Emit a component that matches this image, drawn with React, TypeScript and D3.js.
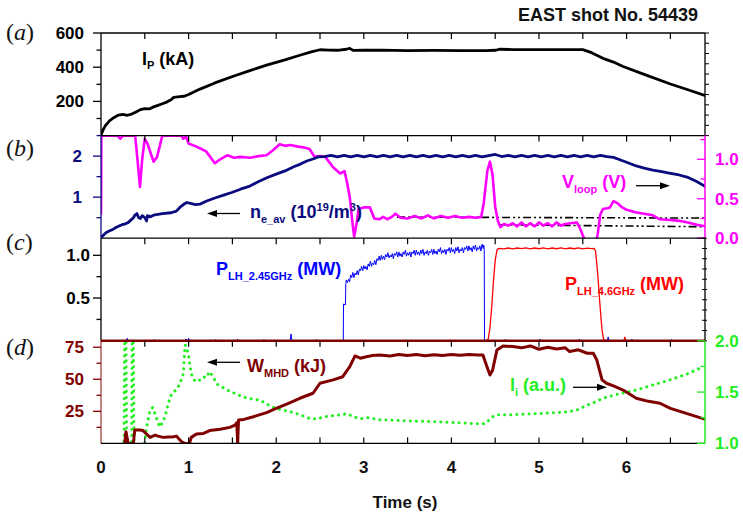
import React from "react";
import * as d3 from "d3";

type P = [number, number];

const T_MAX = 6.895;
const xLabelTicks = [0, 1, 2, 3, 4, 5, 6];
const xMinorTicks = [0.5, 1, 1.5, 2, 2.5, 3, 3.5, 4, 4.5, 5, 5.5, 6, 6.5];

// (a) plasma current, kA
const ipData: P[] = [
  [0, 0], [0.02, 30], [0.05, 58], [0.1, 88], [0.15, 106], [0.2, 120], [0.25, 124], [0.3, 119],
  [0.35, 126], [0.4, 138], [0.45, 152], [0.5, 158], [0.55, 156], [0.6, 168], [0.65, 177], [0.7, 186],
  [0.75, 196], [0.8, 210], [0.83, 224], [0.9, 228], [0.95, 230], [1.0, 240], [1.13, 272], [1.3, 308],
  [1.51, 347], [1.7, 380], [1.89, 412], [2.1, 443], [2.27, 470], [2.4, 490], [2.5, 502], [2.6, 500],
  [2.7, 499], [2.8, 505], [2.84, 510], [2.88, 498], [3.0, 499], [3.2, 500], [3.5, 497], [3.8, 498],
  [4.1, 497], [4.4, 497], [4.5, 499], [4.55, 505], [4.7, 503], [5.0, 503], [5.3, 503], [5.5, 503],
  [5.6, 485], [5.73, 452], [5.85, 430], [5.96, 404], [6.2, 358], [6.5, 302], [6.7, 268], [6.9, 234],
];
const ipTicksMajor = [200, 400, 600];
const ipTicksMinor = [100, 300, 500];

// (b) line-averaged density, 1e19 m^-3
const neData: P[] = [
  [0, 0.02], [0.03, 0.08], [0.06, 0.14], [0.1, 0.18], [0.14, 0.22], [0.17, 0.26], [0.2, 0.29], [0.24, 0.33],
  [0.28, 0.35], [0.31, 0.38], [0.34, 0.44], [0.37, 0.5], [0.39, 0.57], [0.41, 0.6], [0.43, 0.5], [0.45, 0.48],
  [0.47, 0.55], [0.5, 0.5], [0.52, 0.42], [0.53, 0.55], [0.56, 0.52], [0.6, 0.56], [0.7, 0.6], [0.8, 0.62],
  [0.86, 0.66], [0.9, 0.75], [0.94, 0.82], [0.98, 0.87], [1.02, 0.85], [1.08, 0.82], [1.13, 0.83], [1.2, 0.9],
  [1.3, 0.98], [1.4, 1.05], [1.5, 1.12], [1.6, 1.2], [1.7, 1.27], [1.8, 1.38], [1.9, 1.48], [2.0, 1.56],
  [2.1, 1.64], [2.2, 1.74], [2.27, 1.8], [2.35, 1.88], [2.42, 1.93], [2.48, 1.98], [2.55, 1.99],
  [2.625, 2.02], [2.7, 1.98], [2.775, 2.02], [2.85, 1.98], [2.925, 2.02], [3.0, 1.98], [3.075, 2.02],
  [3.15, 1.98], [3.225, 2.02], [3.3, 1.98], [3.375, 2.02], [3.45, 1.98], [3.525, 2.02], [3.6, 1.98],
  [3.675, 2.02], [3.75, 1.98], [3.825, 2.02], [3.9, 1.98], [3.975, 2.02], [4.05, 1.98], [4.125, 2.02],
  [4.2, 1.98], [4.275, 2.02], [4.35, 1.98], [4.425, 2.01], [4.5, 2.04], [4.575, 1.99], [4.65, 2.02],
  [4.725, 1.98], [4.8, 2.02], [4.875, 1.98], [4.95, 2.02], [5.025, 1.98], [5.1, 2.02], [5.175, 1.98],
  [5.25, 2.02], [5.325, 1.98], [5.4, 2.02], [5.475, 1.98], [5.55, 2.02], [5.625, 1.98], [5.7, 2.02],
  [5.775, 1.99], [5.85, 1.97], [5.9, 1.93], [6.0, 1.85], [6.11, 1.76], [6.2, 1.71], [6.3, 1.66],
  [6.4, 1.62], [6.5, 1.58], [6.6, 1.54], [6.69, 1.49], [6.8, 1.38], [6.9, 1.26],
];
const neTicksMajor = [1, 2];
const neTicksMinor = [0.5, 1.5, 2.5];

// (b) loop voltage, V
const vloopData: P[] = [
  [0, 0.3], [0.004, 1.3], [0.19, 1.3], [0.22, 1.26], [0.25, 1.3], [0.39, 1.3], [0.42, 0.95], [0.445, 0.65],
  [0.47, 1.0], [0.5, 1.26], [0.53, 1.2], [0.6, 0.97], [0.64, 1.03], [0.7, 1.3], [0.92, 1.3], [0.94, 1.26],
  [0.97, 1.29], [1.0, 1.2], [1.07, 1.17], [1.13, 1.14], [1.2, 1.1], [1.3, 0.95], [1.36, 1.0], [1.44, 1.05],
  [1.52, 1.02], [1.59, 1.03], [1.7, 1.02], [1.8, 1.04], [1.89, 1.05], [1.97, 1.12], [2.04, 1.19],
  [2.1, 1.17], [2.16, 1.18], [2.25, 1.16], [2.32, 1.15], [2.38, 1.13], [2.44, 1.03], [2.5, 1.04],
  [2.56, 1.03], [2.65, 0.9], [2.73, 0.82], [2.78, 0.85], [2.81, 0.7], [2.84, 0.52], [2.87, 0.2],
  [2.89, 0.02], [2.92, 0.2], [2.94, 0.37], [3.0, 0.39], [3.07, 0.39], [3.12, 0.25], [3.18, 0.24],
  [3.22, 0.27], [3.27, 0.24], [3.32, 0.27], [3.36, 0.31], [3.42, 0.26], [3.5, 0.25], [3.58, 0.28],
  [3.66, 0.25], [3.73, 0.29], [3.8, 0.25], [3.88, 0.28], [3.96, 0.26], [4.04, 0.28], [4.12, 0.26],
  [4.2, 0.27], [4.28, 0.26], [4.34, 0.27], [4.37, 0.45], [4.41, 0.85], [4.44, 0.97], [4.47, 0.8],
  [4.5, 0.4], [4.53, 0.22], [4.56, 0.14], [4.6, 0.18], [4.65, 0.16], [4.7, 0.19], [4.75, 0.15],
  [4.8, 0.2], [4.85, 0.15], [4.9, 0.19], [4.95, 0.15], [5.0, 0.2], [5.05, 0.16], [5.1, 0.19],
  [5.15, 0.15], [5.2, 0.2], [5.25, 0.16], [5.3, 0.18], [5.36, 0.19], [5.43, 0.2], [5.47, 0.12],
  [5.51, 0.01], [5.55, -0.1], [5.64, -0.1], [5.67, 0.05], [5.7, 0.3], [5.73, 0.37], [5.78, 0.38],
  [5.81, 0.39], [5.85, 0.47], [5.9, 0.44], [5.95, 0.39], [6.0, 0.36], [6.1, 0.33], [6.2, 0.31],
  [6.3, 0.29], [6.38, 0.24], [6.5, 0.23], [6.6, 0.22], [6.7, 0.2], [6.8, 0.17], [6.9, 0.15],
];
const vFitUpper: P[] = [[3.38, 0.267], [6.9, 0.255]];
const vFitLower: P[] = [[4.55, 0.17], [6.9, 0.145]];
const vTicksMajor = [0, 0.5, 1.0];
const vTicksMinor = [0.25, 0.75, 1.25];

// (c) LH powers, MW
const plh245Data: P[] = [
  [0, 0], [0.29, 0], [0.3, 0.03], [0.31, 0], [0.6, 0], [0.61, 0.015], [0.62, 0], [0.95, 0], [0.97, 0.02],
  [0.99, 0], [1.0, 0.03], [1.01, 0], [1.3, 0], [1.31, 0.015], [1.32, 0], [1.55, 0], [1.56, 0.02], [1.57, 0],
  [1.85, 0], [1.86, 0.015], [1.87, 0], [2.16, 0], [2.17, 0.08], [2.18, 0], [2.45, 0], [2.46, 0.015],
  [2.47, 0], [2.766, 0], [2.768, 0.43], [2.79, 0.42], [2.795, 0.67],
  [2.8, 0.71], [2.8125, 0.68], [2.825, 0.72], [2.8375, 0.69], [2.85, 0.77], [2.8625, 0.74], [2.875, 0.8],
  [2.8875, 0.74], [2.9, 0.79], [2.9125, 0.77], [2.925, 0.82], [2.9375, 0.77], [2.95, 0.84], [2.9625, 0.82],
  [2.975, 0.87], [2.9875, 0.82], [3.0, 0.88], [3.0125, 0.84], [3.025, 0.87], [3.0375, 0.83], [3.05, 0.9],
  [3.0625, 0.87], [3.075, 0.93], [3.0875, 0.87], [3.1, 0.91], [3.1125, 0.89], [3.125, 0.94], [3.1375, 0.89],
  [3.15, 0.96], [3.1625, 0.94], [3.175, 0.99], [3.1875, 0.94], [3.2, 1.0], [3.2125, 0.95], [3.225, 0.99],
  [3.2375, 0.95], [3.25, 1.01], [3.2625, 0.98], [3.275, 1.03], [3.2875, 0.97], [3.3, 1.0], [3.3125, 0.98],
  [3.325, 1.02], [3.3375, 0.96], [3.35, 1.02], [3.3625, 1.0], [3.375, 1.04], [3.3875, 0.98], [3.4, 1.04],
  [3.4125, 0.99], [3.425, 1.02], [3.4375, 0.98], [3.45, 1.04], [3.4625, 1.01], [3.475, 1.06], [3.4875, 0.99],
  [3.5, 1.03], [3.5125, 1.0], [3.525, 1.04], [3.5375, 0.98], [3.55, 1.04], [3.5625, 1.02], [3.575, 1.06],
  [3.5875, 1.0], [3.6, 1.06], [3.6125, 1.01], [3.625, 1.04], [3.6375, 1.0], [3.65, 1.06], [3.6625, 1.02],
  [3.675, 1.07], [3.6875, 1.0], [3.7, 1.04], [3.7125, 1.02], [3.725, 1.06], [3.7375, 1.0], [3.75, 1.05],
  [3.7625, 1.03], [3.775, 1.07], [3.7875, 1.01], [3.8, 1.07], [3.8125, 1.02], [3.825, 1.05], [3.8375, 1.01],
  [3.85, 1.07], [3.8625, 1.04], [3.875, 1.09], [3.8875, 1.02], [3.9, 1.06], [3.9125, 1.03], [3.925, 1.07],
  [3.9375, 1.01], [3.95, 1.07], [3.9625, 1.05], [3.975, 1.09], [3.9875, 1.03], [4.0, 1.09], [4.0125, 1.04],
  [4.025, 1.07], [4.0375, 1.02], [4.05, 1.09], [4.0625, 1.05], [4.075, 1.1], [4.0875, 1.03], [4.1, 1.07],
  [4.1125, 1.05], [4.125, 1.09], [4.1375, 1.03], [4.15, 1.09], [4.1625, 1.07], [4.175, 1.11], [4.1875, 1.05],
  [4.2, 1.11], [4.2125, 1.06], [4.225, 1.09], [4.2375, 1.04], [4.25, 1.11], [4.2625, 1.07], [4.275, 1.12],
  [4.2875, 1.05], [4.3, 1.09], [4.3125, 1.07], [4.325, 1.11], [4.3375, 1.05], [4.35, 1.13], [4.3625, 1.08],
  [4.37, 1.12], [4.375, 1.06], [4.378, 0],
  [4.6, 0], [4.61, 0.015], [4.62, 0], [5.0, 0], [5.01, 0.02], [5.02, 0], [5.45, 0], [5.46, 0.02],
  [5.47, 0], [5.78, 0], [5.79, 0.045], [5.8, 0], [6.05, 0], [6.06, 0.02], [6.07, 0], [6.5, 0],
  [6.51, 0.015], [6.52, 0], [6.9, 0],
];
const plh46Data: P[] = [
  [4.4, 0], [4.42, 0.02], [4.44, 0.15], [4.46, 0.39], [4.48, 0.7], [4.5, 0.94], [4.52, 1.06], [4.54, 1.08],
  [4.6, 1.075], [4.65, 1.085], [4.7, 1.075], [4.75, 1.085], [4.8, 1.078], [4.85, 1.086], [4.9, 1.076],
  [4.95, 1.085], [5.0, 1.077], [5.05, 1.086], [5.1, 1.076], [5.15, 1.085], [5.2, 1.077], [5.25, 1.086],
  [5.3, 1.076], [5.35, 1.085], [5.4, 1.077], [5.45, 1.086], [5.5, 1.076], [5.55, 1.085], [5.6, 1.078],
  [5.63, 1.08], [5.645, 1.05], [5.66, 0.9], [5.675, 0.72], [5.69, 0.5], [5.705, 0.3], [5.72, 0.12],
  [5.735, 0.03], [5.75, 0], [5.97, 0], [5.98, 0.045], [5.99, 0], [6.9, 0],
];
const pTicksMajor = [0.5, 1.0];
const pTicksMinor = [0.25, 0.75];

// (d) stored energy, kJ
const wmhdData: P[] = [
  [0.27, 0], [0.285, 9.1], [0.31, 0], [0.37, 0], [0.385, 10.4], [0.4, 10.4], [0.445, 10.4], [0.48, 10],
  [0.52, 7.3], [0.56, 4.7], [0.62, 6.5], [0.65, 5.7], [0.71, 4.7], [0.77, 5.0], [0.83, 5.2], [0.86, 5.7],
  [0.92, 1.3], [0.96, 0], [1.01, 0], [1.03, 4.7], [1.09, 7.3], [1.17, 7.8], [1.24, 10], [1.36, 11],
  [1.47, 12.5], [1.53, 14.3], [1.55, 16.1], [1.56, 0], [1.57, 18.2], [1.63, 18.7], [1.74, 20.8],
  [1.89, 24], [2.0, 27.3], [2.12, 30.7], [2.27, 35.2], [2.42, 39.1], [2.5, 46.9], [2.65, 49.5],
  [2.76, 52], [2.84, 59.8], [2.9, 68.2], [2.96, 66.4], [3.03, 67.6], [3.1, 68.5], [3.18, 69],
  [3.3, 68.2], [3.4, 69.3], [3.5, 68.5], [3.6, 69.4], [3.7, 68.4], [3.8, 69.2], [3.9, 68.6], [4.0, 69.3],
  [4.1, 68.8], [4.2, 69.4], [4.3, 69.0], [4.36, 69], [4.4, 61], [4.44, 53.4], [4.47, 57], [4.52, 72.9],
  [4.59, 76], [4.7, 75.5], [4.8, 74.5], [4.9, 76], [5.0, 73.4], [5.1, 75], [5.2, 73.6], [5.3, 74.5],
  [5.35, 71.6], [5.45, 73], [5.55, 70.3], [5.62, 70.3], [5.66, 65], [5.72, 49.5], [5.77, 46.9],
  [5.85, 44.8], [5.96, 41.6], [6.11, 35.2], [6.25, 32.8], [6.38, 31.3], [6.5, 27.3], [6.7, 23],
  [6.9, 18.75],
];
const wTicksMajor = [25, 50, 75];
const wTicksMinor = [12.5, 37.5, 62.5];

// (d) internal inductance, a.u.
const liData: P[] = [
  [0.262, 0.9], [0.27, 2.0], [0.285, 2.0], [0.293, 0.9], [0.35, 0.9], [0.355, 2.0], [0.37, 2.0],
  [0.377, 0.9], [0.49, 0.95], [0.52, 1.16], [0.56, 1.32], [0.59, 1.35], [0.62, 1.28], [0.64, 1.23],
  [0.67, 1.16], [0.7, 1.2], [0.73, 1.26], [0.76, 1.36], [0.79, 1.45], [0.82, 1.5], [0.86, 1.52],
  [0.9, 1.58], [0.94, 1.68], [0.96, 1.96], [0.98, 1.93], [1.0, 1.85], [1.03, 1.68], [1.06, 1.62],
  [1.09, 1.6], [1.13, 1.62], [1.17, 1.65], [1.2, 1.64], [1.24, 1.7], [1.28, 1.65], [1.32, 1.58],
  [1.38, 1.55], [1.44, 1.52], [1.52, 1.49], [1.6, 1.46], [1.67, 1.44], [1.75, 1.43], [1.82, 1.42],
  [1.9, 1.38], [2.0, 1.34], [2.1, 1.32], [2.2, 1.3], [2.3, 1.27], [2.39, 1.24], [2.47, 1.24],
  [2.55, 1.26], [2.65, 1.27], [2.75, 1.28], [2.81, 1.29], [2.88, 1.26], [2.96, 1.24], [3.05, 1.25],
  [3.19, 1.23], [3.5, 1.22], [3.83, 1.21], [4.1, 1.2], [4.36, 1.19], [4.4, 1.2], [4.45, 1.25],
  [4.52, 1.28], [4.7, 1.28], [4.97, 1.29], [5.2, 1.3], [5.35, 1.31], [5.45, 1.33], [5.54, 1.37],
  [5.63, 1.4], [5.73, 1.44], [5.9, 1.48], [6.11, 1.52], [6.3, 1.57], [6.5, 1.62], [6.7, 1.68],
  [6.88, 1.75],
];
const liTicksMajor = [1.0, 1.5, 2.0];
const liTicksMinor = [1.25, 1.75];

const panelLabels = ["a", "b", "c", "d"];

const SANS = "'Liberation Sans', Arial, Helvetica, sans-serif";
const SERIF = "'Liberation Serif', 'Times New Roman', serif";
const NAVY = "#0b0b80";
const MAGENTA = "#ff00ff";
const DARKRED = "#800000";
const GREEN = "#22ee22";

export default function App() {
  const L = 101, R = 705;
  const tops = [33, 135.6, 238.2, 340.8, 443.4];
  const labelBase = [40, 156, 249.5, 355];
  const x = d3.scaleLinear().domain([0, T_MAX]).range([L, R]);
  const yIp = d3.scaleLinear().domain([0, 600]).range([tops[1], tops[0]]);
  const yNe = d3.scaleLinear().domain([0, 2.5]).range([tops[2], tops[1]]);
  const yV = d3.scaleLinear().domain([0, 1.3]).range([tops[2], tops[1]]);
  const yP = d3.scaleLinear().domain([0, 1.2]).range([tops[3], tops[2]]);
  const yW = d3.scaleLinear().domain([0, 80]).range([tops[4], tops[3]]);
  const yLi = d3.scaleLinear().domain([1, 2]).range([tops[4], tops[3]]);

  const path = (data: P[], y: d3.ScaleLinear<number, number>) =>
    d3.line<P>().x((d) => x(d[0])).y((d) => y(d[1]))(data) || "";

  const leftTicks = (
    y: d3.ScaleLinear<number, number>,
    major: number[],
    minor: number[],
    color: string,
    labelX: number,
    fmt: (v: number) => string,
    keyP: string
  ) => (
    <g key={keyP}>
      {major.map((v) => (
        <g key={keyP + "M" + v}>
          <line x1={L - 8} x2={L} y1={y(v)} y2={y(v)} stroke={color} strokeWidth={1.3} />
          <text x={labelX} y={y(v) + 6} textAnchor="end" fontFamily={SANS} fontWeight="bold" fontSize={17} fill={color}>
            {fmt(v)}
          </text>
        </g>
      ))}
      {minor.map((v) => (
        <line key={keyP + "m" + v} x1={L - 4.5} x2={L} y1={y(v)} y2={y(v)} stroke={color} strokeWidth={1.3} />
      ))}
    </g>
  );

  const rightTicks = (
    y: d3.ScaleLinear<number, number>,
    major: number[],
    minor: number[],
    color: string,
    fmt: (v: number) => string,
    keyP: string
  ) => (
    <g key={keyP}>
      {major.map((v) => (
        <g key={keyP + "M" + v}>
          <line x1={R - 8} x2={R} y1={y(v)} y2={y(v)} stroke={color} strokeWidth={1.3} />
          <text x={715} y={y(v) + 6} textAnchor="start" fontFamily={SANS} fontWeight="bold" fontSize={17} fill={color}>
            {fmt(v)}
          </text>
        </g>
      ))}
      {minor.map((v) => (
        <line key={keyP + "m" + v} x1={R - 4.5} x2={R} y1={y(v)} y2={y(v)} stroke={color} strokeWidth={1.3} />
      ))}
    </g>
  );

  const topTicks = (yTop: number, keyP: string) =>
    xMinorTicks.map((t) => (
      <line key={keyP + t} x1={x(t)} x2={x(t)} y1={yTop} y2={yTop + 6} stroke="#000" strokeWidth={1.2} />
    ));

  const arrow = (x1: number, x2: number, y: number, key: string) => {
    const dir = Math.sign(x2 - x1);
    const hl = 10, hw = 3.5;
    return (
      <g key={key}>
        <line x1={x1} x2={x2 - dir * hl} y1={y} y2={y} stroke="#000" strokeWidth={1.3} />
        <polygon points={`${x2},${y} ${x2 - dir * hl},${y - hw} ${x2 - dir * hl},${y + hw}`} fill="#000" />
      </g>
    );
  };

  const clip = (id: string, i: number) => (
    <clipPath id={id} key={id}>
      <rect x={L} y={tops[i]} width={R - L} height={tops[i + 1] - tops[i]} />
    </clipPath>
  );

  const fmt1 = (v: number) => v.toFixed(1);
  const fmt0 = (v: number) => String(v);
  const ipRightTicks = d3.range(0, 601, 60);
  const pRightTicks = d3.range(0, 1.2001, 0.12);

  return (
    <svg
      width={743}
      height={515}
      viewBox="0 0 743 515"
      style={{ position: "absolute", left: 0, top: 0, background: "#fff" }}
    >
      <defs>
        {clip("ca", 0)}
        {clip("cb", 1)}
        {clip("cc", 2)}
        {clip("cd", 3)}
      </defs>
      <rect x={0} y={0} width={743} height={515} fill="#fff" />

      {/* title */}
      <text x={698} y={21} textAnchor="end" fontFamily={SANS} fontWeight="bold" fontSize={18} fill="#111">
        EAST shot No. 54439
      </text>

      {/* panel labels */}
      {panelLabels.map((l, i) => (
        <text key={"pl" + l} x={6} y={labelBase[i]} fontFamily={SERIF} fontSize={24} fill="#111">
          (<tspan fontStyle="italic">{l}</tspan>)
        </text>
      ))}

      {/* ===== data ===== */}
      <g clipPath="url(#ca)">
        <path d={path(ipData, yIp)} fill="none" stroke="#000" strokeWidth={2.8} strokeLinejoin="round" />
      </g>
      <g clipPath="url(#cb)">
        <path d={path(vFitUpper, yV)} fill="none" stroke="#000" strokeWidth={1.6} strokeDasharray="8,3,2,3,2,3" />
        <path d={path(vFitLower, yV)} fill="none" stroke="#000" strokeWidth={1.6} strokeDasharray="8,3,2,3,2,3" />
        <path d={path(vloopData, yV)} fill="none" stroke={MAGENTA} strokeWidth={2.6} strokeLinejoin="round" />
        <path d={path(neData, yNe)} fill="none" stroke={NAVY} strokeWidth={2.8} strokeLinejoin="round" />
      </g>
      <g clipPath="url(#cc)">
        <path d={path(plh46Data, yP)} fill="none" stroke="#ff0000" strokeWidth={1.3} />
        <path d={path(plh245Data, yP)} fill="none" stroke="#0000ff" strokeWidth={1} />
      </g>
      <g clipPath="url(#cd)">
        <path
          d={path(liData, yLi)}
          fill="none"
          stroke={GREEN}
          strokeWidth={3}
          strokeLinecap="round"
          strokeDasharray="0.1,6"
        />
        <path d={path(wmhdData, yW)} fill="none" stroke={DARKRED} strokeWidth={3} strokeLinejoin="round" />
      </g>

      {/* ===== frames ===== */}
      {/* panel a */}
      <line x1={L} x2={R} y1={tops[0]} y2={tops[0]} stroke="#000" strokeWidth={1.3} />
      <line x1={L} x2={L} y1={tops[0]} y2={tops[1]} stroke="#000" strokeWidth={1.3} />
      <line x1={R} x2={R} y1={tops[0]} y2={tops[1]} stroke="#000" strokeWidth={1.3} />
      {topTicks(tops[0], "ta")}
      {ipRightTicks.map((v) => (
        <line key={"ipr" + v} x1={R} x2={R + 4} y1={yIp(v)} y2={yIp(v)} stroke="#000" strokeWidth={1} />
      ))}
      {leftTicks(yIp, ipTicksMajor, ipTicksMinor, "#000", 84, fmt0, "la")}

      {/* panel b */}
      <line x1={L} x2={R} y1={tops[1]} y2={tops[1]} stroke="#000" strokeWidth={1.3} />
      <line x1={L} x2={L} y1={tops[1]} y2={tops[2]} stroke={NAVY} strokeWidth={1.3} />
      <line x1={R} x2={R} y1={tops[1]} y2={tops[2]} stroke={MAGENTA} strokeWidth={1.5} />
      {topTicks(tops[1], "tb")}
      {leftTicks(yNe, neTicksMajor, neTicksMinor, NAVY, 82, fmt0, "lb")}
      {rightTicks(yV, vTicksMajor, vTicksMinor, MAGENTA, fmt1, "rb")}

      {/* panel c */}
      <line x1={L} x2={R} y1={tops[2]} y2={tops[2]} stroke="#000" strokeWidth={1.3} />
      <line x1={L} x2={L} y1={tops[2]} y2={tops[3]} stroke="#000" strokeWidth={1.3} />
      <line x1={R} x2={R} y1={tops[2]} y2={tops[3]} stroke="#000" strokeWidth={1.3} />
      {topTicks(tops[2], "tc")}
      {pRightTicks.map((v) => (
        <line key={"pr" + v} x1={R - 3} x2={R + 2} y1={yP(v)} y2={yP(v)} stroke="#000" strokeWidth={1} />
      ))}
      {leftTicks(yP, pTicksMajor, pTicksMinor, "#000", 90, fmt1, "lc")}

      {/* panel d */}
      <line x1={L} x2={L} y1={tops[3]} y2={tops[4]} stroke="#b05a5a" strokeWidth={1.5} />
      <line x1={R} x2={R} y1={tops[3]} y2={tops[4]} stroke={GREEN} strokeWidth={1.5} />
      <line x1={L} x2={R} y1={tops[4]} y2={tops[4]} stroke="#000" strokeWidth={1.3} />
      <line x1={L} x2={R} y1={tops[3]} y2={tops[3]} stroke={DARKRED} strokeWidth={2.6} />
      {topTicks(tops[3], "td")}
      {xMinorTicks.map((t) => (
        <line key={"bt" + t} x1={x(t)} x2={x(t)} y1={tops[4] - 6} y2={tops[4]} stroke="#000" strokeWidth={1.2} />
      ))}
      {leftTicks(yW, wTicksMajor, wTicksMinor, DARKRED, 84, fmt0, "ld")}
      {rightTicks(yLi, liTicksMajor, liTicksMinor, GREEN, fmt1, "rd")}

      {/* x tick labels */}
      {xLabelTicks.map((t) => (
        <text key={"xl" + t} x={x(t)} y={473} textAnchor="middle" fontFamily={SANS} fontWeight="bold" fontSize={17} fill="#111">
          {t}
        </text>
      ))}
      <text x={405} y={508} textAnchor="middle" fontFamily={SANS} fontWeight="bold" fontSize={17} fill="#111">
        Time (s)
      </text>

      {/* ===== annotations ===== */}
      <text x={142} y={65} fontFamily={SANS} fontWeight="bold" fontSize={18} fill="#000">
        I<tspan fontSize={11} dy={4}>P</tspan>
        <tspan dy={-4}> (kA)</tspan>
      </text>

      {arrow(240, 207, 213.5, "arNe")}
      <text x={250} y={218} fontFamily={SANS} fontWeight="bold" fontSize={18} fill={NAVY}>
        n<tspan fontSize={11} dy={5}>e_av</tspan>
        <tspan dy={-5}> (10</tspan>
        <tspan fontSize={11} dy={-7}>19</tspan>
        <tspan dy={7}>/m</tspan>
        <tspan fontSize={11} dy={-7}>3</tspan>
        <tspan dy={7}>)</tspan>
      </text>

      <text x={562} y={188} fontFamily={SANS} fontWeight="bold" fontSize={18} fill={MAGENTA}>
        V<tspan fontSize={11} dy={5}>loop</tspan>
        <tspan dy={-5}> (V)</tspan>
      </text>
      {arrow(636, 670, 185.7, "arV")}

      <text x={216} y={275} fontFamily={SANS} fontWeight="bold" fontSize={18} fill="#0000ff">
        P<tspan fontSize={11} dy={5}>LH_2.45GHz</tspan>
        <tspan dy={-5}> (MW)</tspan>
      </text>
      <text x={565} y={290} fontFamily={SANS} fontWeight="bold" fontSize={18} fill="#ff0000">
        P<tspan fontSize={11} dy={5}>LH_4.6GHz</tspan>
        <tspan dy={-5}> (MW)</tspan>
      </text>

      {arrow(240, 207, 362.3, "arW")}
      <text x={247} y={371.5} fontFamily={SANS} fontWeight="bold" fontSize={18} fill={DARKRED}>
        W<tspan fontSize={11} dy={5}>MHD</tspan>
        <tspan dy={-5}> (kJ)</tspan>
      </text>

      <text x={510} y={391} fontFamily={SANS} fontWeight="bold" fontSize={18} fill={GREEN}>
        l<tspan fontSize={11} dy={5}>i</tspan>
        <tspan dy={-5}> (a.u.)</tspan>
      </text>
      {arrow(573, 607, 387.3, "arLi")}
    </svg>
  );
}
